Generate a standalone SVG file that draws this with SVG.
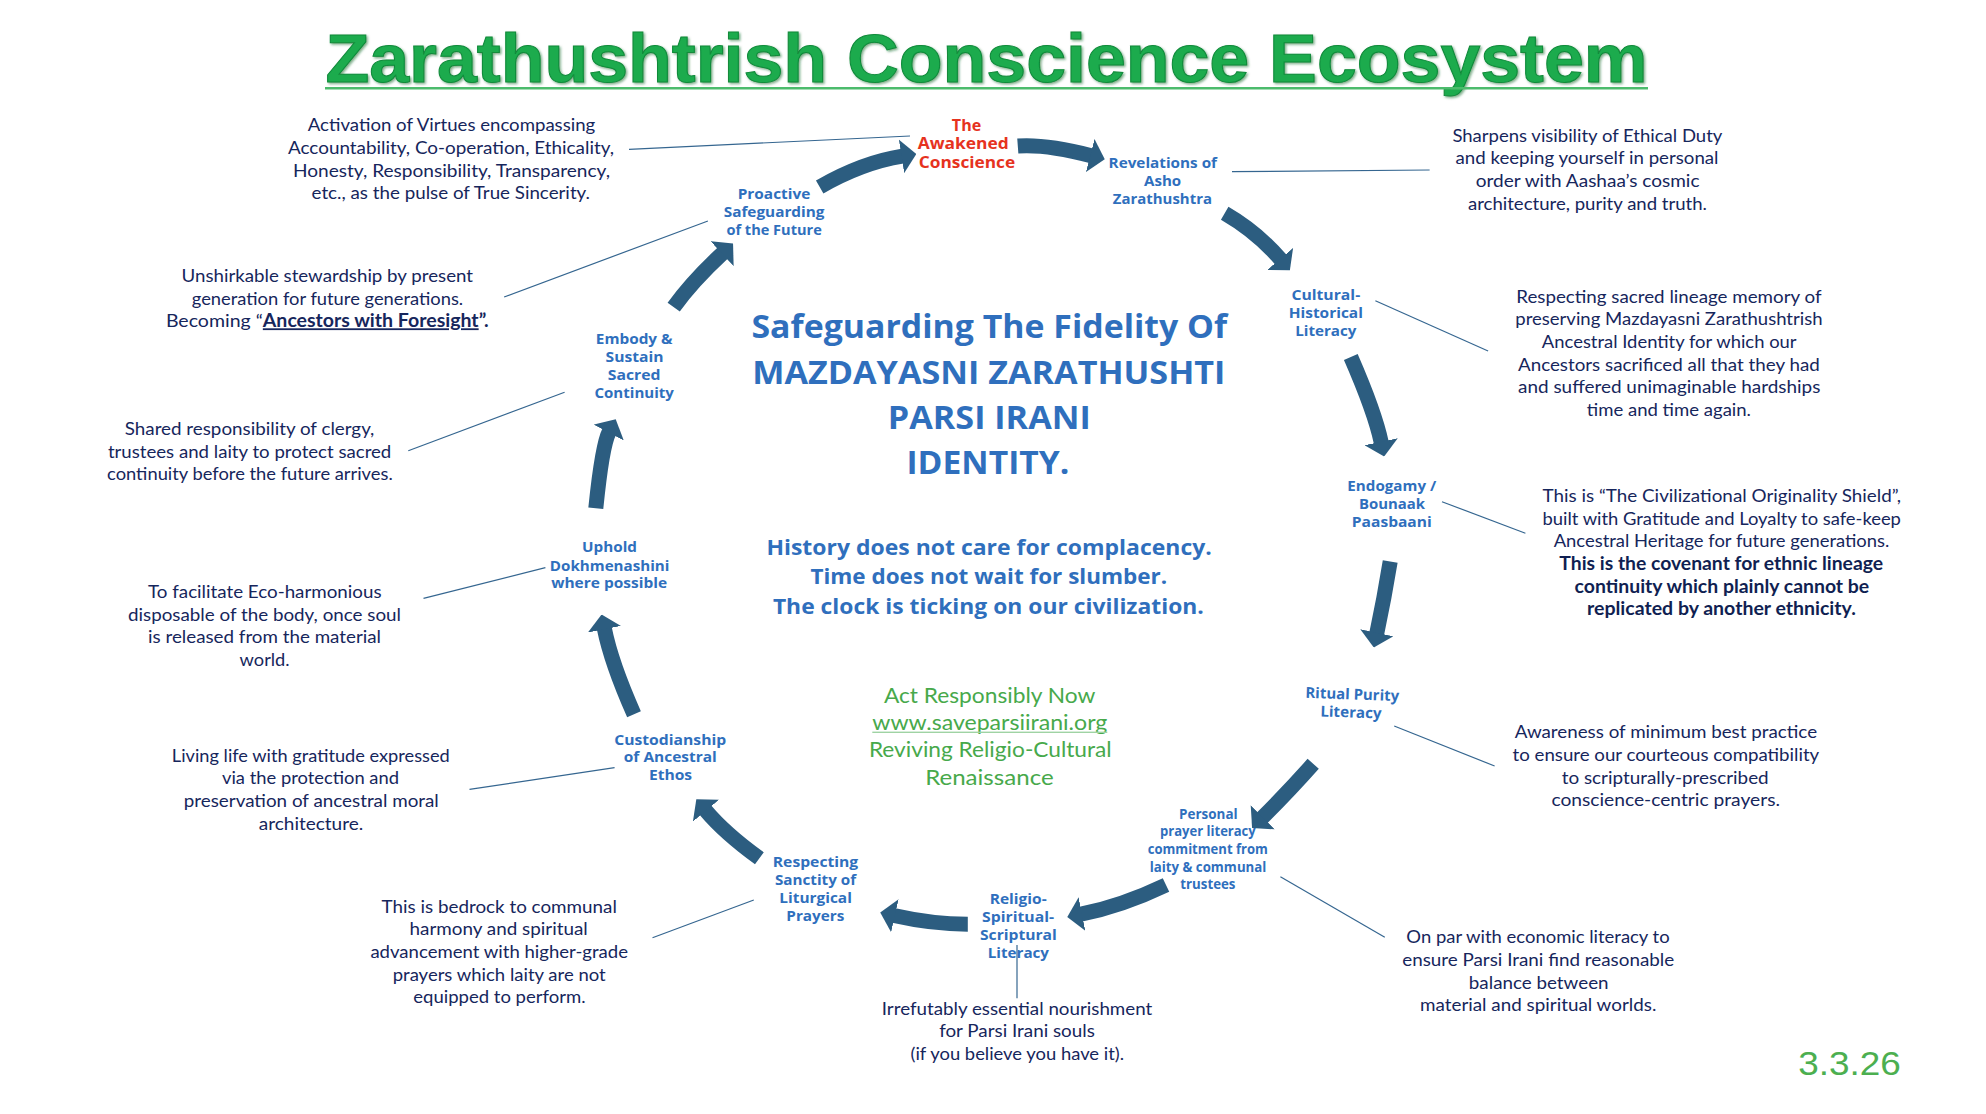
<svg xmlns="http://www.w3.org/2000/svg" width="1986" height="1114" viewBox="0 0 1986 1114">
<defs>
<style>
.d{font-family:Lato,"Liberation Sans",sans-serif;font-size:18px;fill:#16265c;text-anchor:middle}
.db{font-weight:700;fill:#101f52}
.n{font-family:"Open Sans","Liberation Sans",sans-serif;font-weight:700;font-size:15px;fill:#2f6fbd;text-anchor:middle}
.red{fill:#e6321e;font-size:16px}
.sm{font-size:13.5px}
.c1{font-family:"Open Sans","Liberation Sans",sans-serif;font-weight:700;font-size:32px;fill:#2f6fbd;text-anchor:middle}
.c2{font-size:21px}
.g{font-family:Lato,"Liberation Sans",sans-serif;font-size:21px;fill:#47a94b;text-anchor:middle}
.ldr{stroke:#356690;stroke-width:1.2;fill:none}
.arr{stroke:#2c5d80;stroke-width:15;fill:none;marker-end:url(#ah)}
</style>
<marker id="ah" viewBox="0 0 15 34" refX="1" refY="17" markerWidth="15" markerHeight="34" markerUnits="userSpaceOnUse" orient="auto">
<path d="M0,0 L15,17 L0,34 Z" fill="#2c5d80"/>
</marker>
<filter id="sh" x="-5%" y="-20%" width="110%" height="140%">
<feDropShadow dx="1.5" dy="1.5" stdDeviation="0.8" flood-color="#0b6b2a" flood-opacity="0.55"/>
</filter>
</defs>
<rect width="1986" height="1114" fill="#ffffff"/>

<g id="title">
<text x="986.5" y="82" font-family="'Liberation Sans',Arial,sans-serif" font-weight="700" font-size="68" fill="#1bab4e" stroke="#128a3a" stroke-width="1" text-anchor="middle" textLength="1322" lengthAdjust="spacingAndGlyphs" filter="url(#sh)">Zarathushtrish Conscience Ecosystem</text>
<rect x="325" y="87" width="1323" height="2.5" fill="#4cbb6c"/>
</g>

<g id="connectors">
<g id="arrows">
<path class="arr" d="M819.7,187 Q862.4,162.5 902.5,156.2"/>
<path class="arr" d="M1017.8,146.1 Q1045.9,144 1091.2,155.7"/>
<path class="arr" d="M1224.7,213.2 Q1257.2,232 1280.8,259.7"/>
<path class="arr" d="M1350.8,357 Q1375,412.5 1381.3,442.7"/>
<path class="arr" d="M1390.2,561.5 Q1384.2,598.5 1376.7,633.7"/>
<path class="arr" d="M1313.2,763.8 Q1290,790 1262,818"/>
<path class="arr" d="M1166,885 Q1122,906 1081,914.2"/>
<path class="arr" d="M967.8,924.2 Q932.5,924.2 893.9,915.5"/>
<path class="arr" d="M759.4,858.3 Q724.5,833 705.3,810"/>
<path class="arr" d="M634,714.2 Q611.1,662.6 604.3,628.3"/>
<path class="arr" d="M595.8,508.3 Q602.2,445 609.2,431.7"/>
<path class="arr" d="M673.7,307.2 Q691.8,281.8 722.8,253"/>
</g>
<g id="leaders">
<line class="ldr" x1="910" y1="136" x2="629" y2="149.3"/>
<line class="ldr" x1="1232" y1="171.7" x2="1429.6" y2="170"/>
<line class="ldr" x1="1375.4" y1="300.7" x2="1488.1" y2="351"/>
<line class="ldr" x1="1442" y1="501.7" x2="1525.4" y2="533.3"/>
<line class="ldr" x1="1394.2" y1="726" x2="1494.6" y2="766"/>
<line class="ldr" x1="1280.4" y1="876.7" x2="1384.8" y2="937.3"/>
<line class="ldr" x1="1017" y1="945" x2="1017" y2="998.3"/>
<line class="ldr" x1="753.8" y1="900" x2="652.5" y2="937.7"/>
<line class="ldr" x1="614.6" y1="767.7" x2="469.5" y2="789.3"/>
<line class="ldr" x1="545.4" y1="567.7" x2="423.5" y2="598.3"/>
<line class="ldr" x1="564.6" y1="392.3" x2="408.3" y2="450.7"/>
<line class="ldr" x1="707.9" y1="221" x2="504.1" y2="297"/>
</g>
</g>

<g id="center">
<text class="c1" x="989.3" y="337.7" textLength="475.7" lengthAdjust="spacingAndGlyphs">Safeguarding The Fidelity Of</text>
<text class="c1" x="988.8" y="384.3" textLength="473.2" lengthAdjust="spacingAndGlyphs">MAZDAYASNI ZARATHUSHTI</text>
<text class="c1" x="989.3" y="429.3" textLength="202.9" lengthAdjust="spacingAndGlyphs">PARSI IRANI</text>
<text class="c1" x="987.9" y="474.3" textLength="162.9" lengthAdjust="spacingAndGlyphs">IDENTITY.</text>
<text class="c1 c2" x="989.1" y="555" textLength="445.4" lengthAdjust="spacingAndGlyphs">History does not care for complacency.</text>
<text class="c1 c2" x="988.8" y="584.3" textLength="356.8" lengthAdjust="spacingAndGlyphs">Time does not wait for slumber.</text>
<text class="c1 c2" x="988.4" y="614" textLength="431" lengthAdjust="spacingAndGlyphs">The clock is ticking on our civilization.</text>
<text class="g" x="989.6" y="702.7" textLength="211.4" lengthAdjust="spacingAndGlyphs">Act Responsibly Now</text>
<text class="g" x="989.8" y="730" textLength="235" lengthAdjust="spacingAndGlyphs">www.saveparsiirani.org</text>
<rect x="872.3" y="731.6" width="235" height="1.4" fill="#9fd3a4"/>
<text class="g" x="990.3" y="757.3" textLength="242.8" lengthAdjust="spacingAndGlyphs">Reviving Religio-Cultural</text>
<text class="g" x="989.4" y="785" textLength="128.5" lengthAdjust="spacingAndGlyphs">Renaissance</text>
</g>

<g id="node-awakened-conscience">
<text class="n red" x="966.5" y="130.7" textLength="29.3" lengthAdjust="spacingAndGlyphs">The</text>
<text class="n red" x="963.2" y="149.3" textLength="91" lengthAdjust="spacingAndGlyphs">Awakened</text>
<text class="n red" x="967" y="168" textLength="96.4" lengthAdjust="spacingAndGlyphs">Conscience</text>
<text class="d" x="451.5" y="131" textLength="287.5" lengthAdjust="spacingAndGlyphs">Activation of Virtues encompassing</text>
<text class="d" x="451" y="153.8" textLength="326" lengthAdjust="spacingAndGlyphs">Accountability, Co-operation, Ethicality,</text>
<text class="d" x="451.5" y="176.6" textLength="317" lengthAdjust="spacingAndGlyphs">Honesty, Responsibility, Transparency,</text>
<text class="d" x="450.8" y="199.4" textLength="278.5" lengthAdjust="spacingAndGlyphs">etc., as the pulse of True Sincerity.</text>
</g>

<g id="node-revelations">
<text class="n" x="1162.8" y="167.6" textLength="108.5" lengthAdjust="spacingAndGlyphs">Revelations of</text>
<text class="n" x="1162.6" y="186.4" textLength="37.2" lengthAdjust="spacingAndGlyphs">Asho</text>
<text class="n" x="1162.4" y="204.4" textLength="99.1" lengthAdjust="spacingAndGlyphs">Zarathushtra</text>
<text class="d" x="1587.4" y="141.7" textLength="270" lengthAdjust="spacingAndGlyphs">Sharpens visibility of Ethical Duty</text>
<text class="d" x="1587" y="164.3" textLength="263" lengthAdjust="spacingAndGlyphs">and keeping yourself in personal</text>
<text class="d" x="1587.6" y="187" textLength="223.8" lengthAdjust="spacingAndGlyphs">order with Aashaa’s cosmic</text>
<text class="d" x="1587.5" y="209.7" textLength="239" lengthAdjust="spacingAndGlyphs">architecture, purity and truth.</text>
</g>

<g id="node-cultural-historical">
<text class="n" x="1325.8" y="299.5" textLength="68.8" lengthAdjust="spacingAndGlyphs">Cultural-</text>
<text class="n" x="1325.8" y="317.7" textLength="74.2" lengthAdjust="spacingAndGlyphs">Historical</text>
<text class="n" x="1325.8" y="335.8" textLength="61.2" lengthAdjust="spacingAndGlyphs">Literacy</text>
<text class="d" x="1668.9" y="302.7" textLength="305.2" lengthAdjust="spacingAndGlyphs">Respecting sacred lineage memory of</text>
<text class="d" x="1668.9" y="325.3" textLength="307.3" lengthAdjust="spacingAndGlyphs">preserving Mazdayasni Zarathushtrish</text>
<text class="d" x="1669.2" y="348" textLength="254.7" lengthAdjust="spacingAndGlyphs">Ancestral Identity for which our</text>
<text class="d" x="1668.9" y="370.7" textLength="301.8" lengthAdjust="spacingAndGlyphs">Ancestors sacrificed all that they had</text>
<text class="d" x="1669.2" y="393.3" textLength="302.4" lengthAdjust="spacingAndGlyphs">and suffered unimaginable hardships</text>
<text class="d" x="1668.9" y="416" textLength="164.2" lengthAdjust="spacingAndGlyphs">time and time again.</text>
</g>

<g id="node-endogamy">
<text class="n" x="1391.8" y="490.5" textLength="88.9" lengthAdjust="spacingAndGlyphs">Endogamy /</text>
<text class="n" x="1392" y="509" textLength="66.1" lengthAdjust="spacingAndGlyphs">Bounaak</text>
<text class="n" x="1391.8" y="527" textLength="79.9" lengthAdjust="spacingAndGlyphs">Paasbaani</text>
<text class="d" x="1721.7" y="501.7" textLength="358.5" lengthAdjust="spacingAndGlyphs">This is “The Civilizational Originality Shield”,</text>
<text class="d" x="1721.7" y="524.5" textLength="358.5" lengthAdjust="spacingAndGlyphs">built with Gratitude and Loyalty to safe-keep</text>
<text class="d" x="1721.5" y="547.2" textLength="335.7" lengthAdjust="spacingAndGlyphs">Ancestral Heritage for future generations.</text>
<text class="d db" x="1721.2" y="570" textLength="323.7" lengthAdjust="spacingAndGlyphs">This is the covenant for ethnic lineage</text>
<text class="d db" x="1721.9" y="592.7" textLength="294.6" lengthAdjust="spacingAndGlyphs">continuity which plainly cannot be</text>
<text class="d db" x="1721.4" y="615.4" textLength="268.8" lengthAdjust="spacingAndGlyphs">replicated by another ethnicity.</text>
</g>

<g id="node-ritual-purity">
<g transform="rotate(2 1352 708)">
<text class="n" x="1351.8" y="699.5" textLength="93.8" lengthAdjust="spacingAndGlyphs">Ritual Purity</text>
<text class="n" x="1351.1" y="717.5" textLength="61.2" lengthAdjust="spacingAndGlyphs">Literacy</text>
</g>
<text class="d" x="1665.9" y="738.3" textLength="302.3" lengthAdjust="spacingAndGlyphs">Awareness of minimum best practice</text>
<text class="d" x="1665.9" y="761" textLength="306.7" lengthAdjust="spacingAndGlyphs">to ensure our courteous compatibility</text>
<text class="d" x="1665.2" y="783.7" textLength="207" lengthAdjust="spacingAndGlyphs">to scripturally-prescribed</text>
<text class="d" x="1665.7" y="806.3" textLength="228.6" lengthAdjust="spacingAndGlyphs">conscience-centric prayers.</text>
</g>

<g id="node-personal-prayer">
<text class="n sm" x="1208.4" y="819.3" textLength="58.6" lengthAdjust="spacingAndGlyphs">Personal</text>
<text class="n sm" x="1207.9" y="836.3" textLength="95.7" lengthAdjust="spacingAndGlyphs">prayer literacy</text>
<text class="n sm" x="1207.8" y="854" textLength="120.2" lengthAdjust="spacingAndGlyphs">commitment from</text>
<text class="n sm" x="1208" y="872" textLength="116.7" lengthAdjust="spacingAndGlyphs">laity &amp; communal</text>
<text class="n sm" x="1207.9" y="888.7" textLength="55.1" lengthAdjust="spacingAndGlyphs">trustees</text>
<text class="d" x="1538" y="943.3" textLength="263.3" lengthAdjust="spacingAndGlyphs">On par with economic literacy to</text>
<text class="d" x="1538.2" y="966" textLength="272" lengthAdjust="spacingAndGlyphs">ensure Parsi Irani find reasonable</text>
<text class="d" x="1538.7" y="988.5" textLength="139.7" lengthAdjust="spacingAndGlyphs">balance between</text>
<text class="d" x="1538.2" y="1011" textLength="236.3" lengthAdjust="spacingAndGlyphs">material and spiritual worlds.</text>
</g>

<g id="node-religio-spiritual">
<text class="n" x="1018.2" y="903.6" textLength="57" lengthAdjust="spacingAndGlyphs">Religio-</text>
<text class="n" x="1018.1" y="921.8" textLength="72" lengthAdjust="spacingAndGlyphs">Spiritual-</text>
<text class="n" x="1018.4" y="939.6" textLength="76.8" lengthAdjust="spacingAndGlyphs">Scriptural</text>
<text class="n" x="1018.4" y="957.7" textLength="61.2" lengthAdjust="spacingAndGlyphs">Literacy</text>
<text class="d" x="1017" y="1015" textLength="270.5" lengthAdjust="spacingAndGlyphs">Irrefutably essential nourishment</text>
<text class="d" x="1017" y="1037.3" textLength="155.7" lengthAdjust="spacingAndGlyphs">for Parsi Irani souls</text>
<text class="d" x="1017.3" y="1059.7" textLength="213.5" lengthAdjust="spacingAndGlyphs">(if you believe you have it).</text>
</g>

<g id="node-respecting-sanctity">
<text class="n" x="815.5" y="866.5" textLength="85.5" lengthAdjust="spacingAndGlyphs">Respecting</text>
<text class="n" x="815.5" y="885" textLength="81.2" lengthAdjust="spacingAndGlyphs">Sanctity of</text>
<text class="n" x="815.6" y="903" textLength="72.5" lengthAdjust="spacingAndGlyphs">Liturgical</text>
<text class="n" x="815.3" y="921" textLength="58" lengthAdjust="spacingAndGlyphs">Prayers</text>
<text class="d" x="499.2" y="912.7" textLength="235.3" lengthAdjust="spacingAndGlyphs">This is bedrock to communal</text>
<text class="d" x="498.7" y="935.3" textLength="178.2" lengthAdjust="spacingAndGlyphs">harmony and spiritual</text>
<text class="d" x="499.2" y="958" textLength="257.6" lengthAdjust="spacingAndGlyphs">advancement with higher-grade</text>
<text class="d" x="499.2" y="980.7" textLength="213" lengthAdjust="spacingAndGlyphs">prayers which laity are not</text>
<text class="d" x="499.4" y="1003.3" textLength="172.3" lengthAdjust="spacingAndGlyphs">equipped to perform.</text>
</g>

<g id="node-custodianship">
<text class="n" x="670.2" y="744.5" textLength="112" lengthAdjust="spacingAndGlyphs">Custodianship</text>
<text class="n" x="670.3" y="762.3" textLength="93" lengthAdjust="spacingAndGlyphs">of Ancestral</text>
<text class="n" x="670.5" y="780" textLength="43.2" lengthAdjust="spacingAndGlyphs">Ethos</text>
<text class="d" x="310.8" y="761.7" textLength="278" lengthAdjust="spacingAndGlyphs">Living life with gratitude expressed</text>
<text class="d" x="310.5" y="784.3" textLength="177" lengthAdjust="spacingAndGlyphs">via the protection and</text>
<text class="d" x="311.3" y="807" textLength="255" lengthAdjust="spacingAndGlyphs">preservation of ancestral moral</text>
<text class="d" x="311" y="829.6" textLength="104.4" lengthAdjust="spacingAndGlyphs">architecture.</text>
</g>

<g id="node-uphold-dokhmenashini">
<text class="n" x="609.5" y="551.7" textLength="54.9" lengthAdjust="spacingAndGlyphs">Uphold</text>
<text class="n" x="609.6" y="570.7" textLength="119.6" lengthAdjust="spacingAndGlyphs">Dokhmenashini</text>
<text class="n" x="609.2" y="588.3" textLength="116" lengthAdjust="spacingAndGlyphs">where possible</text>
<text class="d" x="264.8" y="597.7" textLength="233.5" lengthAdjust="spacingAndGlyphs">To facilitate Eco-harmonious</text>
<text class="d" x="264.5" y="620.5" textLength="273" lengthAdjust="spacingAndGlyphs">disposable of the body, once soul</text>
<text class="d" x="264.5" y="643.2" textLength="233" lengthAdjust="spacingAndGlyphs">is released from the material</text>
<text class="d" x="264.6" y="666" textLength="50" lengthAdjust="spacingAndGlyphs">world.</text>
</g>

<g id="node-embody-sustain">
<text class="n" x="634.2" y="344.3" textLength="76.8" lengthAdjust="spacingAndGlyphs">Embody &amp;</text>
<text class="n" x="634.6" y="362.3" textLength="58" lengthAdjust="spacingAndGlyphs">Sustain</text>
<text class="n" x="634.2" y="380" textLength="52.7" lengthAdjust="spacingAndGlyphs">Sacred</text>
<text class="n" x="634.2" y="398.3" textLength="79.5" lengthAdjust="spacingAndGlyphs">Continuity</text>
<text class="d" x="249.6" y="435" textLength="249.6" lengthAdjust="spacingAndGlyphs">Shared responsibility of clergy,</text>
<text class="d" x="249.6" y="457.5" textLength="283.4" lengthAdjust="spacingAndGlyphs">trustees and laity to protect sacred</text>
<text class="d" x="249.9" y="480" textLength="285.7" lengthAdjust="spacingAndGlyphs">continuity before the future arrives.</text>
</g>

<g id="node-proactive-safeguarding">
<text class="n" x="774" y="199.3" textLength="72.6" lengthAdjust="spacingAndGlyphs">Proactive</text>
<text class="n" x="774.1" y="217.3" textLength="100.8" lengthAdjust="spacingAndGlyphs">Safeguarding</text>
<text class="n" x="774.1" y="235" textLength="95.4" lengthAdjust="spacingAndGlyphs">of the Future</text>
<text class="d" x="327.3" y="282.3" textLength="291.5" lengthAdjust="spacingAndGlyphs">Unshirkable stewardship by present</text>
<text class="d" x="327.5" y="304.8" textLength="271.4" lengthAdjust="spacingAndGlyphs">generation for future generations.</text>
<text class="d" x="327.3" y="327.3" textLength="322.8" lengthAdjust="spacingAndGlyphs">Becoming “<tspan font-weight="700" text-decoration="underline">Ancestors with Foresight</tspan><tspan font-weight="700">”.</tspan></text>
</g>

<g id="date">
<text x="1849.5" y="1075" font-family="'Liberation Sans',Arial,sans-serif" font-size="34" fill="#4caf50" text-anchor="middle" textLength="102.7" lengthAdjust="spacingAndGlyphs">3.3.26</text>
</g>
</svg>
